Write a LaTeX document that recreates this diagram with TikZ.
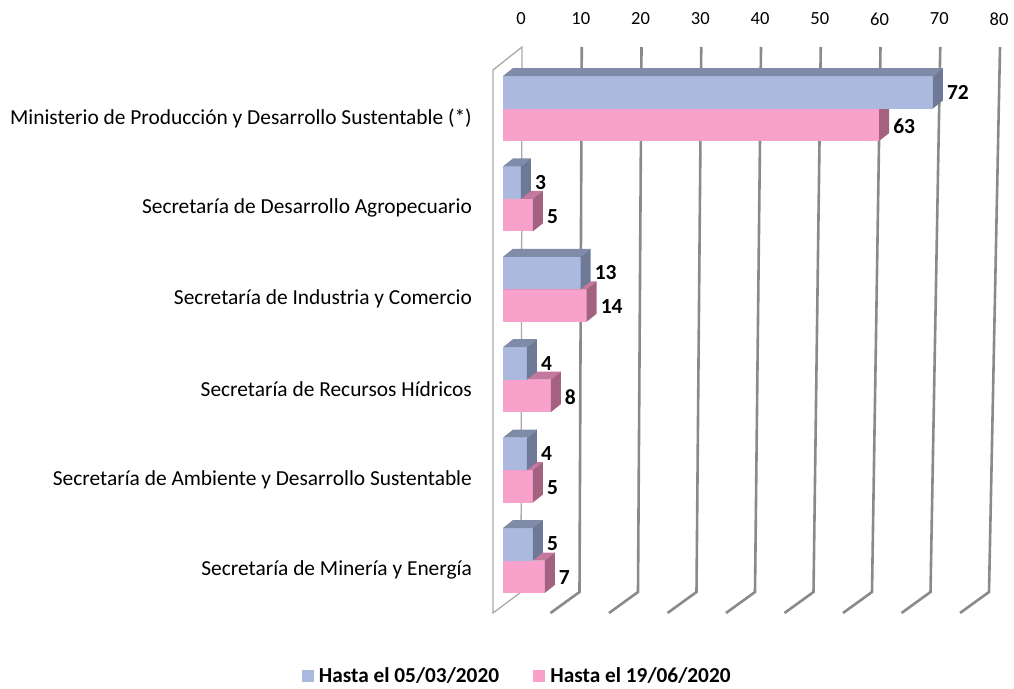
\documentclass[tikz,border=0pt]{standalone}
\usepackage{fontspec}
\setmainfont{Carlito}
\usetikzlibrary{positioning}

\definecolor{blueFront}{RGB}{170,185,221}
\definecolor{blueTop}{RGB}{128,139,168}
\definecolor{blueSide}{RGB}{110,121,152}
\definecolor{pinkFront}{RGB}{247,161,203}
\definecolor{pinkTop}{RGB}{196,120,158}
\definecolor{pinkSide}{RGB}{163,99,128}
\definecolor{gridGray}{RGB}{138,138,138}
\definecolor{wallGray}{RGB}{170,170,170}

% one 3D bar: value, top y, front, top, side colours
\newcommand{\drawbar}[5]{%
  \pgfmathsetmacro{\xr}{503+5.97*#1}
  \fill[#3] (503,#2) rectangle (\xr,#2+32.5);
  \fill[#4] (503,#2) -- (513,#2-8) -- (\xr+10,#2-8) -- (\xr,#2) -- cycle;
  \fill[#5] (\xr,#2) -- (\xr+10,#2-8) -- (\xr+10,#2+24.5) -- (\xr,#2+32.5) -- cycle;
}

\begin{document}
\begin{tikzpicture}[x=1pt,y=-1pt,
    gridline/.style={draw=gridGray,line width=2.6pt},
    wallline/.style={draw=wallGray,line width=1.3pt},
    ticklabel/.style={inner sep=0pt,font=\fontsize{18.5}{22}\selectfont},
    catlabel/.style={inner sep=0pt,anchor=east,font=\fontsize{21.4}{25}\selectfont},
    vallabel/.style={inner sep=0pt,anchor=west,font=\bfseries\fontsize{21.5}{25}\selectfont},
    legsq/.style={rectangle,minimum size=12pt,inner sep=0pt},
    legtext/.style={inner sep=0pt,font=\bfseries\fontsize{21.3}{25}\selectfont}]
  \useasboundingbox (0,0) rectangle (1014,688);

  % walls and floor
  \draw[wallline] (522,47) -- (493,70) -- (493,613) -- (521,592) -- cycle;
  \foreach \k in {1,...,8}
    \draw[gridline] (522+59.75*\k,47) -- (521+58.5*\k,592) -- (492+58.5*\k,613);

  % axis
  \foreach \k [evaluate=\k as \lab using int(10*\k)] in {0,...,8}
    \node[ticklabel] (tick-\k) at (521+59.75*\k,19) {\lab};

  % bars
  \foreach \bv/\pv/\name [count=\i from 0] in {
      72/63/{Ministerio de Producción y Desarrollo Sustentable (*)},
      3/5/{Secretaría de Desarrollo Agropecuario},
      13/14/{Secretaría de Industria y Comercio},
      4/8/{Secretaría de Recursos Hídricos},
      4/5/{Secretaría de Ambiente y Desarrollo Sustentable},
      5/7/{Secretaría de Minería y Energía}} {
    \pgfmathsetmacro{\yt}{76+90.4*\i}
    \drawbar{\pv}{\yt+32.5}{pinkFront}{pinkTop}{pinkSide}
    \node[vallabel] (val-p-\i) at (503+5.97*\pv+14,\yt+50) {\pv};
    \drawbar{\bv}{\yt}{blueFront}{blueTop}{blueSide}
    \node[vallabel] (val-b-\i) at (503+5.97*\bv+14,\yt+16) {\bv};
    \node[catlabel] (cat-\i) at (472,\yt+42) {\name};
  }

  % legend
  \node[legsq,fill=blueFront] (sq-a) at (307.5,676) {};
  \node[legtext,right=5pt of sq-a] (leg-a) {Hasta el 05/03/2020};
  \node[legsq,fill=pinkFront] (sq-b) at (539,676) {};
  \node[legtext,right=5pt of sq-b] (leg-b) {Hasta el 19/06/2020};
\end{tikzpicture}
\end{document}
